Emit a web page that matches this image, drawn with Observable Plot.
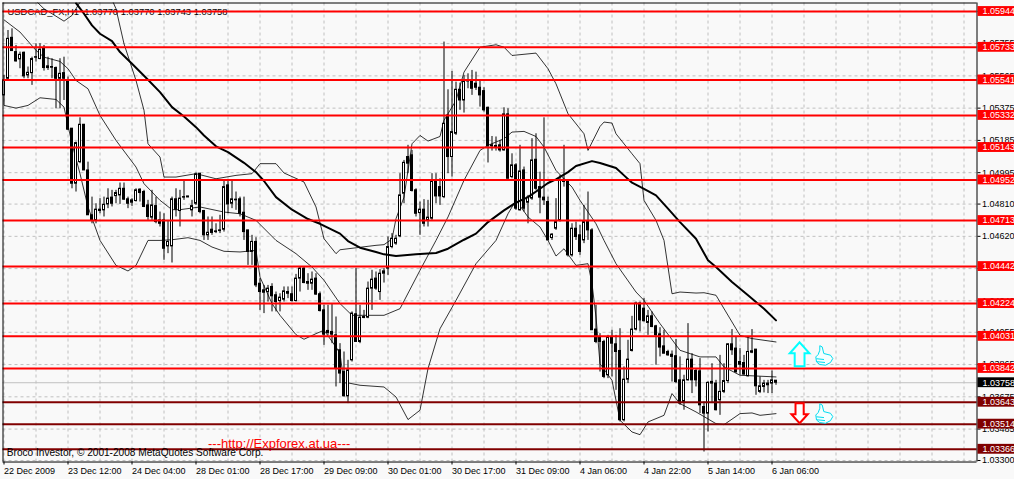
<!DOCTYPE html>
<html><head><meta charset="utf-8">
<script src="https://cdn.jsdelivr.net/npm/d3@7"></script>
<script src="https://cdn.jsdelivr.net/npm/@observablehq/plot@0.6"></script>
<style>html,body{margin:0;padding:0;background:#f9f9f9;overflow:hidden}svg{display:block}</style>
</head><body><div id="chart"></div>
<script>
// Prices are stored as points above 1.00000 (5420 = 1.05420); one entry per hourly bar.
const open = [5450,5548,5789,5705,5662,5701,5568,5581,5675,5664,
5724,5621,5617,5611,5548,5581,5538,5254,4930,5057,
5277,5008,4744,4714,4769,4773,4808,4848,4857,4861,
4900,4838,4818,4828,4895,4881,4802,4730,4798,4714,
4714,4561,4561,4838,4769,4851,4855,4773,4812,4989,
4769,4626,4659,4649,4655,4659,4920,4812,4836,4838,
4759,4655,4528,4587,4341,4302,4292,4322,4273,4239,
4247,4292,4279,4239,4371,4430,4351,4341,4371,4279,
4184,4063,4057,4037,3949,3821,3678,3890,4161,3998,
4145,4141,4312,4371,4292,4400,4430,4557,4577,4620,
4871,5087,5097,4891,4757,4777,4714,4724,4944,4910,
4851,5332,5087,5224,5483,5420,5538,5532,5519,5495,
5475,5377,5156,5152,5156,5126,5338,4969,5038,4773,
5008,4818,4842,5071,4910,4848,4822,4610,4665,4714,
4953,4950,4508,4665,4626,4596,4704,4655,4071,4027,
3998,3802,4023,3984,3945,3537,3776,3945,4071,4224,
4194,4110,4149,4090,4043,3972,3939,3923,3914,3772,
3645,3772,3894,3827,3825,3615,3576,3763,3753,3655,
3704,3768,3984,3959,3880,3874,3796,3943,3953,3704,
3733,3743,3753,3770];
const high = [5568,5832,5842,5744,5705,5705,5617,5675,5754,5754,
5744,5675,5666,5617,5666,5675,5558,5254,5175,5318,
5279,5057,4851,4812,4842,4851,4900,4891,4891,4934,
4934,4851,4842,4900,4900,4891,4832,4891,4851,4763,
4753,4714,4851,4900,4891,4950,4855,4832,4993,4989,
4773,4734,4734,4694,4744,4950,4950,4950,4881,4851,
4851,4655,4626,4612,4371,4331,4331,4341,4292,4282,
4322,4322,4322,4396,4439,4439,4400,4410,4400,4292,
4214,4214,4224,4145,3988,3939,3890,4175,4430,4214,
4184,4351,4420,4410,4424,4430,4616,4636,4626,4989,
5067,5156,5126,4900,4822,4836,4832,4989,4989,4959,
5764,5483,5591,5528,5522,5568,5577,5597,5587,5538,
5495,5381,5208,5205,5185,5377,5371,5106,5048,5156,
5028,4861,5195,5224,4998,5318,4851,4636,4842,4979,
5156,4950,4694,4704,4685,4802,4881,4665,4214,4047,
4008,4037,4067,4037,4076,3851,4008,4149,4233,4233,
4253,4184,4175,4096,4082,4067,3949,3945,4012,3910,
3802,4106,3929,3841,3900,3645,3763,3870,3772,3919,
3870,3988,4071,4027,3959,3919,4027,4071,3953,3792,
3772,3772,3827,3770];
const low = [5391,5538,5711,5646,5607,5548,5548,5509,5646,5660,
5593,5597,5548,5371,5371,5420,5244,4900,4881,5048,
5008,4744,4694,4694,4753,4734,4783,4793,4812,4808,
4832,4783,4796,4822,4822,4789,4714,4714,4694,4675,
4479,4518,4463,4734,4675,4832,4848,4734,4802,4753,
4596,4596,4626,4636,4636,4645,4753,4783,4773,4734,
4596,4449,4449,4318,4184,4165,4233,4175,4175,4175,
4233,4253,4233,4233,4292,4341,4302,4302,4273,4175,
3978,4037,3988,3733,3753,3674,3635,3880,3998,3988,
4135,4135,4184,4302,4243,4345,4390,4547,4567,4612,
4812,4989,4881,4734,4626,4675,4675,4714,4812,4802,
4842,4989,4969,5214,5362,5346,5489,5450,5479,5381,
5352,5052,5122,5122,5116,5122,4959,4959,4773,4769,
4763,4694,4832,4891,4753,4802,4596,4596,4655,4704,
4910,4498,4498,4596,4508,4577,4596,4067,3988,3821,
3782,3782,3792,3713,3527,3527,3753,3939,4063,4057,
4116,4037,4082,3861,3910,3929,3914,3762,3753,3625,
3596,3768,3694,3733,3576,3350,3468,3635,3592,3566,
3694,3753,3919,3812,3802,3802,3792,3929,3684,3694,
3698,3694,3694,3743];
const close = [5538,5783,5711,5650,5689,5562,5583,5664,5672,5719,
5611,5611,5613,5548,5577,5548,5248,4930,5169,5277,
5008,4744,4714,4777,4777,4806,4842,4812,4875,4900,
4836,4812,4832,4891,4875,4793,4734,4802,4704,4694,
4547,4587,4838,4777,4842,4848,4849,4798,4985,4763,
4626,4641,4640,4645,4651,4910,4808,4838,4832,4753,
4645,4528,4587,4331,4292,4288,4312,4267,4233,4259,
4296,4282,4239,4371,4430,4345,4341,4365,4277,4180,
4041,4051,4041,3841,3812,3678,3831,4165,3998,4141,
4139,4312,4365,4312,4400,4414,4557,4606,4606,4861,
5053,5048,4887,4753,4777,4694,4730,4944,4855,4855,
5283,5087,5234,5483,5420,5532,5532,5489,5495,5450,
5362,5150,5150,5146,5126,5338,4959,5038,4783,5002,
4783,4848,5067,4900,4848,4832,4596,4630,4704,4950,
4940,4508,4665,4616,4528,4704,4655,4067,3998,3998,
3792,4023,3988,3939,3537,3776,3894,4071,4224,4125,
4120,4149,4086,4037,3965,3929,3919,3910,3762,3635,
3772,3894,3772,3772,3625,3576,3757,3753,3596,3704,
3768,3984,3949,3821,3864,3806,3939,3935,3737,3737,
3753,3753,3772,3758];

// Thick moving average, sampled along the curve
const smaBar = [18,20,22,24,27,29,32,36,39,42,45,48,50,53,56,60,63,65,68,72,76,79,84,86,89,93,95,98,103,108,111,115,118,121,125,128,131,134,136,138,141,143,147,149,153,155,157,160,163,166,169,173,176,178,182,186,190,193];
const smaVal = [5993,5931,5862,5813,5770,5705,5636,5542,5469,5381,5326,5263,5214,5150,5116,5053,4998,4946,4851,4777,4722,4694,4636,4592,4553,4528,4514,4504,4514,4522,4547,4600,4636,4704,4773,4818,4851,4900,4934,4955,4998,5034,5063,5052,5022,4979,4936,4900,4861,4783,4704,4606,4479,4439,4351,4273,4194,4125];
// Bollinger bands (the upper band leaves the frame near the start)
const upperBar = [7,10,12,15,17,19,22,26,28,30,33,35,36,39,40,43,48,53,58,62,64,68,70,75,78,80,83,84,93,95,97,98,100,101,102,104,106,109,110,113,115,119,123,125,127,133,136,138,141,145,146,149,150,152,153,157,159,160,163,165,167,169,173,175,178,184,187,193];
const upperVal = [6029,5960,5931,5887,5921,5999,6068,6068,5960,5754,5538,5362,5165,5087,4969,4969,4989,4959,4979,4989,5048,5048,4993,4940,4793,4606,4518,4541,4567,4571,4604,4724,4851,5008,5165,5214,5181,5208,5303,5420,5587,5734,5748,5734,5685,5699,5607,5518,5342,5224,5126,5267,5293,5287,5224,5106,5048,4832,4714,4596,4282,4292,4286,4288,4273,4037,4018,3998];
const middleBar = [0,4,8,10,14,16,18,21,24,28,33,35,39,42,44,49,55,59,63,68,73,77,80,84,87,95,99,104,108,111,115,119,121,125,127,130,133,135,138,142,144,148,150,153,158,160,164,169,174,178,180,184,193];
const middleVal = [5895,5823,5715,5675,5650,5607,5538,5489,5332,5185,5028,4930,4832,4777,4777,4793,4763,4753,4714,4596,4518,4439,4361,4224,4155,4155,4194,4420,4596,4734,4950,5126,5156,5195,5234,5238,5208,5146,5008,4910,4832,4694,4596,4459,4292,4243,4106,3949,3910,3910,3851,3802,3792];
const lowerBar = [0,3,6,9,13,15,17,19,21,24,28,31,33,36,39,42,46,49,52,55,59,63,64,67,69,73,75,78,80,83,84,85,86,89,95,98,101,104,106,109,113,118,123,126,128,131,134,136,138,140,143,146,147,148,149,152,154,157,159,161,165,167,169,173,178,180,184,187,189,193];
const lowerVal = [5391,5375,5391,5436,5426,5381,5165,4989,4793,4596,4449,4416,4449,4596,4596,4600,4612,4596,4557,4532,4528,4537,4380,4224,4155,4041,4014,4047,4067,3968,3929,3757,3757,3743,3733,3674,3541,3596,3841,4076,4243,4459,4596,4753,4832,4734,4675,4596,4504,4547,4449,4459,4341,4145,3870,3772,3537,3468,3452,3527,3566,3694,3635,3586,3517,3511,3576,3580,3566,3576];

// Horizontal levels and their price tags
const redLevels = [1.05944,1.05733,1.05541,1.05332,1.05143,1.04952,1.04713,1.04442,1.04224,1.04031,1.03842];
const darkLevels = [1.03643,1.03514,1.03366];
const lastPrice = 1.03758;
const yTicks = [1.05945,1.05755,1.05565,1.05375,1.05185,1.04995,1.04810,1.04620,1.04430,1.04240,1.04055,1.03865,1.03675,1.03485,1.03300];

// Time axis: one label every 16 bars, gridline every 8
const xLabels = ["22 Dec 2009","23 Dec 12:00","24 Dec 04:00","28 Dec 01:00","28 Dec 17:00","29 Dec 09:00","30 Dec 01:00","30 Dec 17:00","31 Dec 09:00","4 Jan 06:00","4 Jan 22:00","5 Jan 14:00","6 Jan 06:00"];
const xTickBars = [0,16,32,48,64,80,96,112,128,144,160,176,192];
const gridBars = [0,8,16,24,32,40,48,56,64,72,80,88,96,104,112,120,128,136,144,152,160,168,176,184,192,200,208,216,224,232,240];

const title = "USDCAD_FX,H1  1.03770 1.03770 1.03743 1.03758";
const copyright = "Broco Investor, © 2001-2008 MetaQuotes Software Corp.";
const url = "---http://Expforex.at.ua---";

// Frame extents in chart units
const barMin = -0.25, barMax = 243.25, tagMin = 243.5, tagMax = 254;
const priceTop = 1.05994, priceBottom = 1.03291, tagHalf = 0.00029;
const px = v => 1 + v / 1e5;

const bars = open.map((o, i) => ({i, o: px(o), h: px(high[i]), l: px(low[i]), c: px(close[i])}));
const series = (xs, ys) => xs.map((x, k) => ({x, y: px(ys[k])}));

function poly(ctx, pts, u) {
  pts.forEach(([a, b], k) => k ? ctx.lineTo(a * u, b * u) : ctx.moveTo(a * u, b * u));
  ctx.closePath();
}
const unit = size => Math.sqrt(size / Math.PI) / 11;
const arrowUp = {draw(ctx, size) { poly(ctx, [[0,-11],[9,-1],[4.5,-1],[4.5,11],[-4.5,11],[-4.5,-1],[-9,-1]], unit(size)); }};
const arrowDown = {draw(ctx, size) { poly(ctx, [[0,11],[9,1],[4.5,1],[4.5,-11],[-4.5,-11],[-4.5,1],[-9,1]], unit(size)); }};
const thumb = {draw(ctx, size) {
  const u = unit(size);
  poly(ctx, [[-4.2,-9.5],[-1.8,-8.3],[-0.2,-1.7],[6.5,0],[8.8,3.3],[6.5,7.3],[1.5,10],[-4.2,9.3],[-7.5,6.7],[-8.2,1.7],[-5.8,-0.7],[-4.2,-5]], u);
  [[-7.5,3.5,0],[-7,6.5,1]].forEach(([a,b,c]) => { ctx.moveTo(a*u, b*u); ctx.lineTo(c*u, (b+0.8)*u); });
}};

const fontFamily = "'Liberation Sans', Arial, sans-serif";
const plot = Plot.plot({
  width: 1014, height: 479,
  marginTop: 2.5, marginBottom: 17.5, marginLeft: 3.5, marginRight: 50.5,
  style: {background: "#f9f9f9", fontFamily, fontSize: "9px", color: "#000"},
  x: {domain: [0, 240], range: [3.5, 963.5], axis: null},
  y: {domain: [1.03300, 1.05944], range: [460, 11], axis: null},
  marks: [
    Plot.ruleX(gridBars, {x: d => d, y1: priceBottom, y2: priceTop, stroke: "#c0c0c0", strokeDasharray: "3,3"}),
    Plot.ruleY(yTicks, {y: d => d, x1: barMin, x2: barMax, stroke: "#c0c0c0", strokeDasharray: "3,3"}),
    Plot.ruleY([lastPrice], {y: d => d, x1: barMin, x2: barMax, stroke: "#c0c0c0"}),
    Plot.text([title], {x: 0.9, y: 1.05944, text: d => d, textAnchor: "start", fontSize: 9.4, fill: "#000"}),
    Plot.line(series(upperBar, upperVal), {x: "x", y: "y", stroke: "#000", strokeWidth: 0.8, clip: "frame"}),
    Plot.line(series(middleBar, middleVal), {x: "x", y: "y", stroke: "#000", strokeWidth: 0.8, clip: "frame"}),
    Plot.line(series(lowerBar, lowerVal), {x: "x", y: "y", stroke: "#000", strokeWidth: 0.8, clip: "frame"}),
    Plot.ruleX(bars, {x: "i", y1: "l", y2: "h", stroke: "#000", strokeWidth: 1}),
    Plot.rect(bars, {
      x1: d => d.i - 0.25, x2: d => d.i + 0.25,
      y1: "o", y2: "c",
      fill: d => d.c >= d.o ? "#fff" : "#000",
      stroke: "#000", strokeWidth: 1
    }),
    Plot.line(series(smaBar, smaVal), {x: "x", y: "y", stroke: "#000", strokeWidth: 2, clip: "frame"}),
    Plot.text([url], {x: 51, y: 1.03396, text: d => d, textAnchor: "start", fontSize: 13, fill: "#ff0000"}),
    Plot.ruleY(redLevels, {y: d => d, x1: barMin, x2: barMax, stroke: "#ff0000", strokeWidth: 2}),
    Plot.ruleY(darkLevels, {y: d => d, x1: barMin, x2: barMax, stroke: "#800000", strokeWidth: 2}),
    Plot.text([copyright], {x: 0.7, y: 1.03343, text: d => d, textAnchor: "start", fontSize: 10.1, fill: "#000"}),
    Plot.dot([{x: 198.9, y: 1.03925}], {x: "x", y: "y", r: 12, symbol: arrowUp, fill: "#f9f9f9", stroke: "#00ffff", strokeWidth: 2}),
    Plot.dot([{x: 198.9, y: 1.03578}], {x: "x", y: "y", r: 10, symbol: arrowDown, fill: "#ffffff", stroke: "#ff0000", strokeWidth: 2}),
    Plot.dot([{x: 205, y: 1.03920}, {x: 205, y: 1.03578}], {x: "x", y: "y", r: 11, symbol: thumb, fill: "#f4ffff", stroke: "#00dcf0", strokeWidth: 1}),
    Plot.ruleX([barMin], {y1: priceBottom, y2: priceTop, stroke: "#000", strokeWidth: 1}),
    Plot.ruleX([barMax], {y1: priceBottom, y2: priceTop, stroke: "#000", strokeWidth: 1}),
    Plot.ruleY([priceTop], {x1: barMin, x2: barMax, stroke: "#000", strokeWidth: 1}),
    Plot.ruleY([priceBottom], {x1: barMin, x2: barMax, stroke: "#000", strokeWidth: 1}),
    Plot.axisX({ticks: xTickBars, tickFormat: d => xLabels[xTickBars.indexOf(d)], anchor: "bottom", tickSize: 3, tickPadding: 3, textAnchor: "start", label: null, fontSize: 9, fontVariant: "normal"}),
    Plot.axisY({ticks: yTicks, tickFormat: d => d.toFixed(5), anchor: "right", dx: 13, tickSize: 3, tickPadding: 2, label: null, fontSize: 9, fontVariant: "normal"}),
    Plot.rect(redLevels, {x1: tagMin, x2: tagMax, y1: d => d - tagHalf, y2: d => d + tagHalf, fill: "#ff0000"}),
    Plot.rect(darkLevels, {x1: tagMin, x2: tagMax, y1: d => d - tagHalf, y2: d => d + tagHalf, fill: "#800000"}),
    Plot.rect([lastPrice], {x1: tagMin, x2: tagMax, y1: d => d - tagHalf, y2: d => d + tagHalf, fill: "#000"}),
    Plot.text([...redLevels, ...darkLevels, lastPrice], {x: 244.6, y: d => d, text: d => d.toFixed(5), textAnchor: "start", fontSize: 9, fill: "#fff"})
  ]
});
document.getElementById("chart").append(plot);
</script></body></html>
